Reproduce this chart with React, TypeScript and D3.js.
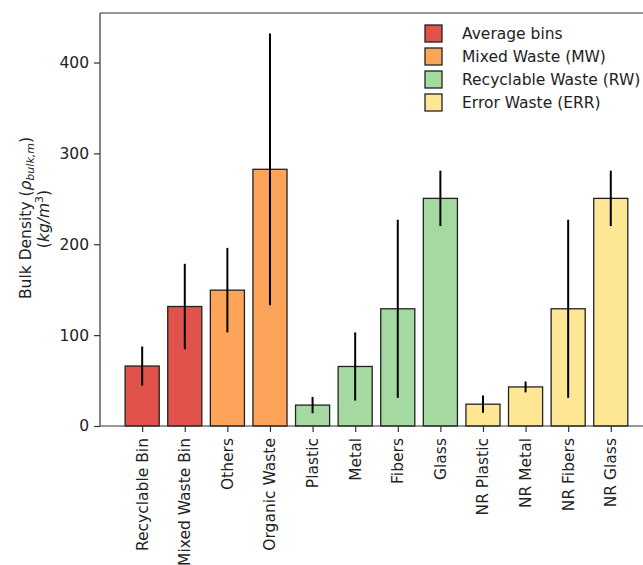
import React, { useEffect, useRef } from 'react';
import * as d3 from 'd3';

const categories = [
  'Recyclable Bin', 'Mixed Waste Bin', 'Others', 'Organic Waste',
  'Plastic', 'Metal', 'Fibers', 'Glass',
  'NR Plastic', 'NR Metal', 'NR Fibers', 'NR Glass',
];
const means = [66, 131.5, 149.5, 282.5, 23, 65.5, 129, 250.5, 24, 43, 129, 250.5];
const errors = [21.5, 47, 46.5, 149.5, 9, 37.5, 98, 30.5, 9.5, 6, 98, 30.5];
const groups = [0, 0, 1, 1, 2, 2, 2, 2, 3, 3, 3, 3];
const groupNames = ['Average bins', 'Mixed Waste (MW)', 'Recyclable Waste (RW)', 'Error Waste (ERR)'];
const groupColors = ['#e2524c', '#fca55a', '#a4daa0', '#fde794'];
const yTicks = [0, 100, 200, 300, 400];

const W = 643;
const H = 565;
const FONT = 'DejaVu Sans, sans-serif';
const FS = 15.5;

const App = () => {
  const ref = useRef<SVGSVGElement>(null);

  useEffect(() => {
    if (!ref.current) return;
    const svg = d3.select(ref.current);
    svg.selectAll('*').remove();

    const left = 100, top = 13, bottom = 426;
    const x = d3.scaleLinear().domain([-0.99, 11.99]).range([left, left + 12.98 * 42.6]);
    const y = d3.scaleLinear().domain([0, 454.5]).range([bottom, top]);
    const bw = x(0.4) - x(-0.4);

    const g = svg.append('g');

    // bars
    g.selectAll('rect.bar')
      .data(means)
      .enter().append('rect')
      .attr('class', 'bar')
      .attr('x', (d, i) => x(i) - bw / 2)
      .attr('y', d => y(d))
      .attr('width', bw)
      .attr('height', d => y(0) - y(d))
      .attr('fill', (d, i) => groupColors[groups[i]])
      .attr('stroke', '#222')
      .attr('stroke-width', 1.3);

    // error bars
    g.selectAll('line.err')
      .data(means)
      .enter().append('line')
      .attr('class', 'err')
      .attr('x1', (d, i) => x(i))
      .attr('x2', (d, i) => x(i))
      .attr('y1', (d, i) => y(d - errors[i]))
      .attr('y2', (d, i) => y(d + errors[i]))
      .attr('stroke', '#000')
      .attr('stroke-width', 2);

    // spines
    const spine = '#333';
    g.append('line').attr('x1', left).attr('x2', left).attr('y1', top).attr('y2', bottom)
      .attr('stroke', spine).attr('stroke-width', 1.2);
    g.append('line').attr('x1', left).attr('x2', W + 20).attr('y1', top).attr('y2', top)
      .attr('stroke', spine).attr('stroke-width', 1.2);
    g.append('line').attr('x1', left).attr('x2', W + 20).attr('y1', bottom).attr('y2', bottom)
      .attr('stroke', spine).attr('stroke-width', 1.2);

    // y axis
    const yAxis = g.append('g')
      .attr('transform', `translate(${left},0)`)
      .call(d3.axisLeft(y).tickValues(yTicks).tickSize(6).tickPadding(5));
    yAxis.select('.domain').remove();
    yAxis.selectAll('line').attr('stroke', spine).attr('stroke-width', 1.2);
    yAxis.selectAll('text').attr('font-family', FONT).attr('font-size', FS).attr('fill', '#222');

    // x axis
    const xAxis = g.append('g')
      .attr('transform', `translate(0,${bottom})`)
      .call(d3.axisBottom(x).tickValues(d3.range(categories.length)).tickSize(6)
        .tickFormat((d: any) => categories[d]));
    xAxis.select('.domain').remove();
    xAxis.selectAll('line').attr('stroke', spine).attr('stroke-width', 1.2);
    xAxis.selectAll('text')
      .attr('font-family', FONT)
      .attr('font-size', FS)
      .attr('fill', '#222')
      .attr('text-anchor', 'end')
      .attr('dy', null)
      .attr('y', null)
      .attr('dominant-baseline', 'central')
      .attr('transform', 'translate(0,12) rotate(-90)');

    // y label
    const l1 = g.append('text')
      .attr('transform', 'translate(31,218) rotate(-90)')
      .attr('text-anchor', 'middle')
      .attr('font-family', FONT)
      .attr('font-size', FS)
      .attr('fill', '#222');
    l1.append('tspan').text('Bulk Density (');
    l1.append('tspan').attr('font-style', 'italic').text('ρ');
    l1.append('tspan').attr('font-style', 'italic').attr('font-size', 11).attr('dy', 3).text('bulk,m');
    l1.append('tspan').attr('dy', -3).text(')');

    const l2 = g.append('text')
      .attr('transform', 'translate(49,219) rotate(-90)')
      .attr('text-anchor', 'middle')
      .attr('font-family', FONT)
      .attr('font-size', FS)
      .attr('fill', '#222');
    l2.append('tspan').text('(');
    l2.append('tspan').attr('font-style', 'italic').text('kg/m');
    l2.append('tspan').attr('font-size', 11).attr('dy', -6).text('3');
    l2.append('tspan').attr('dy', 6).text(')');

    // legend
    const legend = g.append('g')
      .selectAll('g')
      .data(groupNames)
      .enter().append('g')
      .attr('transform', (d, i) => `translate(425,${25 + i * 23})`);
    legend.append('rect')
      .attr('width', 17)
      .attr('height', 17)
      .attr('fill', (d, i) => groupColors[i])
      .attr('stroke', '#222')
      .attr('stroke-width', 1.3);
    legend.append('text')
      .attr('x', 37)
      .attr('y', 8.5)
      .attr('dominant-baseline', 'central')
      .attr('font-family', FONT)
      .attr('font-size', FS)
      .attr('fill', '#222')
      .text(d => d);
  }, []);

  return (
    <svg
      ref={ref}
      width={W}
      height={H}
      style={{ position: 'absolute', left: 0, top: 0, background: '#fff' }}
    />
  );
};

export default App;
